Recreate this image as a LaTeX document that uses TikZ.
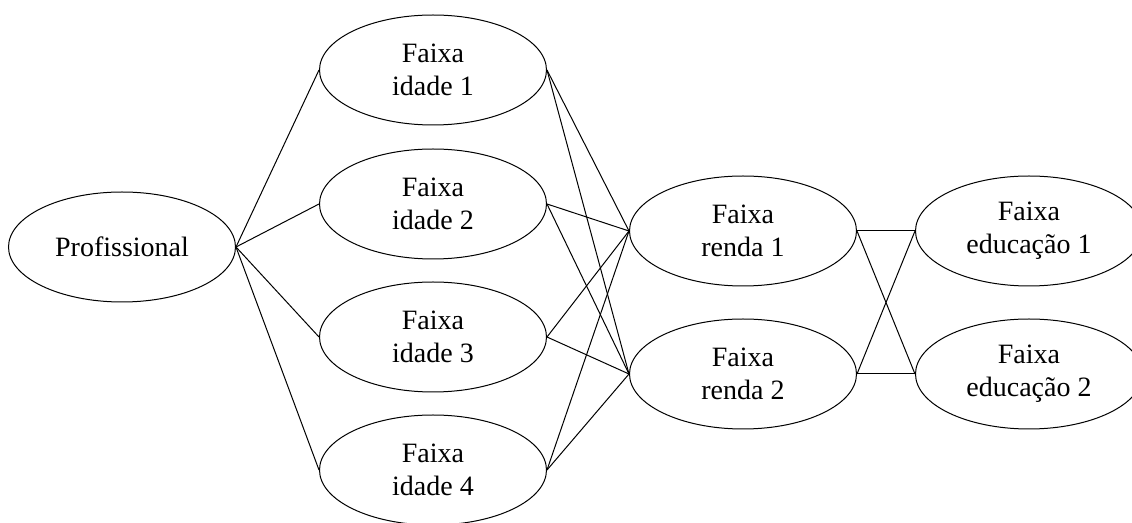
\documentclass[tikz,border=0pt]{standalone}
\usepackage{fontspec}
\setmainfont{Liberation Serif}
\usetikzlibrary{shapes.geometric}
\begin{document}
\begin{tikzpicture}[x=0.5pt,y=-0.5pt,
  oval/.style={draw,ellipse,line width=0.5pt,minimum width=113.5pt,minimum height=55pt,
    inner sep=0pt,align=center,font=\fontsize{14}{16.5}\selectfont},
  link/.style={line width=0.5pt}]
\useasboundingbox (0,0) rectangle (1132,523);
\begin{scope}
\clip (0,0) rectangle (1132,523);
\node[oval] (p) at (122,247) {Profissional};
\node[oval] (i1) at (433,70) {Faixa\\idade 1};
\node[oval] (i2) at (433,204) {Faixa\\idade 2};
\node[oval] (i3) at (433,337) {Faixa\\idade 3};
\node[oval] (i4) at (433,470) {Faixa\\idade 4};
\node[oval] (r1) at (743,231) {Faixa\\renda 1};
\node[oval] (r2) at (743,374) {Faixa\\renda 2};
\node[oval] (e1) at (1029,231) {Faixa\\educação 1};
\node[oval] (e2) at (1029,374) {Faixa\\educação 2};
% profession to age bands
\foreach \a in {i1,i2,i3,i4} \draw[link] (p.east) -- (\a.west);
% age bands to income bands
\foreach \a in {i1,i2,i3,i4} \foreach \b in {r1,r2} \draw[link] (\a.east) -- (\b.west);
% income bands to education bands
\foreach \a in {r1,r2} \foreach \b in {e1,e2} \draw[link] (\a.east) -- (\b.west);
\end{scope}
\end{tikzpicture}
\end{document}
